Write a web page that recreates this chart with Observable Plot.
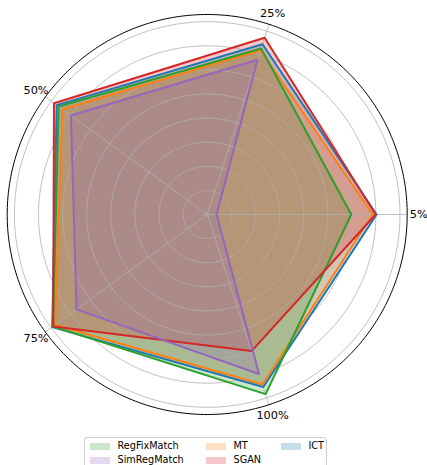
<!DOCTYPE html>
<html>
<head>
<meta charset="utf-8">
<script src="https://cdn.jsdelivr.net/npm/d3@7"></script>
<script src="https://cdn.jsdelivr.net/npm/@observablehq/plot@0.6"></script>
<style>
  html, body { margin: 0; padding: 0; background: #fff; }
  #wrap { position: relative; width: 427px; height: 465px; overflow: hidden; font-family: "DejaVu Sans", sans-serif; }
  #legend { position: absolute; left: 84px; top: 437px; width: 243px; height: 31px; box-sizing: border-box;
            border: 0.8px solid #cccccc; border-radius: 3px; background: rgba(255,255,255,0.8); }
  .sw { position: absolute; width: 20px; height: 7px; }
  .lb { position: absolute; font-size: 9.7px; line-height: 12px; color: #000; white-space: nowrap; }
</style>
</head>
<body>
<div id="wrap"><div id="chart"></div><div id="legend"></div></div>
<script>
// ---- data ----
const axes = ["5%", "25%", "50%", "75%", "100%"];
const ICT         = [70.3, 74.3, 77.2, 79.5, 75.3];
const MT          = [68.7, 71.6, 74.3, 78.0, 74.2];
const RegFixMatch = [59.8, 72.4, 76.2, 79.1, 78.4];
const SGAN        = [69.9, 77.1, 78.6, 79.0, 59.6];
const SimRegMatch = [3.9, 67.5, 69.9, 67.0, 69.6];
const seriesNames = ["ICT", "MT", "RegFixMatch", "SGAN", "SimRegMatch"];
const seriesColors = ["#1f77b4", "#ff7f0e", "#2ca02c", "#d62728", "#9467bd"];
const seriesValues = [ICT, MT, RegFixMatch, SGAN, SimRegMatch];
const gridTicks = [10, 20, 30, 40, 50, 60, 70, 80];
const rMax = 83;
const legendOrder = ["RegFixMatch", "SimRegMatch", "MT", "SGAN", "ICT"];

// ---- build ----
const lonOf = (i) => 90 + 360 / axes.length * i;
const rows = seriesNames.flatMap((name, s) =>
  seriesValues[s].map((v, i) => ({name, color: seriesColors[s], axis: axes[i], lon: lonOf(i), value: v})));
const circle = (r) => d3.geoCircle().center([0, 90]).radius(r).precision(1)();

const fills = seriesNames.map((name, s) =>
  Plot.line(rows.filter(d => d.name === name), {
    x: "lon", y: d => 90 - d.value, curve: "linear-closed",
    fill: seriesColors[s], fillOpacity: 0.25, stroke: seriesColors[s], strokeOpacity: 0.25, strokeWidth: 1
  }));
const lines = seriesNames.map((name, s) =>
  Plot.line(rows.filter(d => d.name === name), {
    x: "lon", y: d => 90 - d.value, curve: "linear-closed",
    stroke: seriesColors[s], strokeWidth: 2, strokeLinejoin: "miter"
  }));

const chart = Plot.plot({
  width: 427,
  height: 430,
  marginLeft: 6.7,
  marginRight: 20.3,
  marginTop: 14,
  marginBottom: 16,
  style: {fontFamily: "DejaVu Sans, sans-serif", background: "white"},
  projection: {
    type: "azimuthal-equidistant",
    rotate: [0, -90],
    domain: circle(rMax),
    clip: false
  },
  marks: [
    ...fills,
    Plot.geo(gridTicks, {geometry: circle, stroke: "#b0b0b0", strokeWidth: 0.8, fill: "none"}),
    Plot.geo([1.1], {geometry: circle, stroke: "#b0b0b0", strokeWidth: 0.8, fill: "none"}),
    Plot.link(axes, {x1: (d, i) => lonOf(i), y1: 90 - rMax, x2: (d, i) => lonOf(i), y2: 90,
                     stroke: "#b0b0b0", strokeWidth: 0.8}),
    ...lines,
    Plot.geo([rMax], {geometry: circle, stroke: "black", strokeWidth: 1, fill: "none"}),
    Plot.text(axes, {x: (d, i) => lonOf(i), y: 90 - 87.8, text: d => d, fontSize: 11.3, fill: "black",
                     textAnchor: "middle", lineAnchor: "middle"})
  ]
});
document.getElementById("chart").appendChild(chart);

// ---- legend (matplotlib style, 3 columns, column-major) ----
const legend = document.getElementById("legend");
const colX = [4.5, 120.5, 195.5];
const rowY = [8.5, 22.5];
legendOrder.forEach((name, k) => {
  const col = Math.floor(k / 2), row = k % 2;
  const s = seriesNames.indexOf(name);
  const c = d3.color(seriesColors[s]);
  const sw = document.createElement("div");
  sw.className = "sw";
  sw.style.left = colX[col] + "px";
  sw.style.top = (rowY[row] - 3.5) + "px";
  sw.style.background = `rgba(${c.r},${c.g},${c.b},0.25)`;
  legend.appendChild(sw);
  const lb = document.createElement("div");
  lb.className = "lb";
  lb.style.left = (colX[col] + 28) + "px";
  lb.style.top = (rowY[row] - 6.5) + "px";
  lb.textContent = name;
  legend.appendChild(lb);
});
</script>
</body>
</html>
